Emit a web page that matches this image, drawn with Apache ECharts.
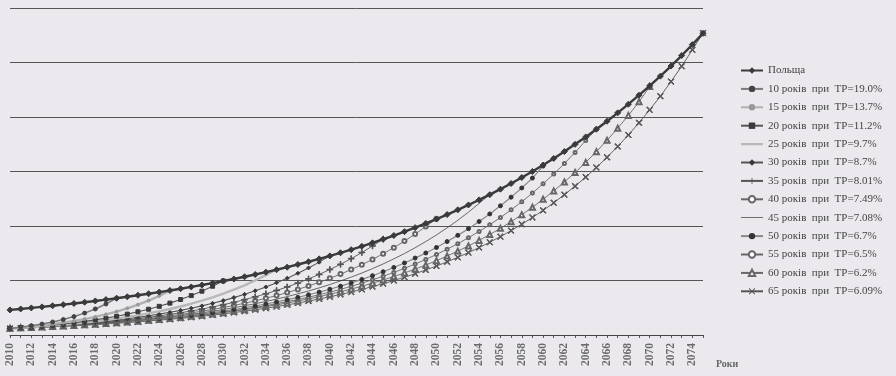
<!DOCTYPE html>
<html><head><meta charset="utf-8">
<script src="https://cdn.jsdelivr.net/npm/echarts@6/dist/echarts.min.js"></script>
<style>html,body{margin:0;padding:0;background:#ebe9ed}#c{width:896px;height:376px}</style>
</head><body><div id="c"></div>
<script>
const years = ['2010','2011','2012','2013','2014','2015','2016','2017','2018','2019','2020','2021','2022','2023','2024','2025','2026','2027','2028','2029','2030','2031','2032','2033','2034','2035','2036','2037','2038','2039','2040','2041','2042','2043','2044','2045','2046','2047','2048','2049','2050','2051','2052','2053','2054','2055','2056','2057','2058','2059','2060','2061','2062','2063','2064','2065','2066','2067','2068','2069','2070','2071','2072','2073','2074','2075'];

const seriesNames = ['Польща','10 років  при  ТР=19.0%','15 років  при  ТР=13.7%','20 років  при  ТР=11.2%','25 років  при  ТР=9.7%','30 років  при  ТР=8.7%','35 років  при  ТР=8.01%','40 років  при  ТР=7.49%','45 років  при  ТР=7.08%','50 років  при  ТР=6.7%','55 років  при  ТР=6.5%','60 років  при  ТР=6.2%','65 років  при  ТР=6.09%'];

const poland = [4.60,4.78,4.97,5.16,5.36,5.57,5.79,6.02,6.25,6.50,6.75,7.01,7.29,7.57,7.87,8.17,8.49,8.82,9.17,9.52,9.90,10.28,10.68,11.10,11.53,11.98,12.45,12.94,13.44,13.97,14.51,15.08,15.66,16.27,16.91,17.57,18.25,18.96,19.70,20.47,21.27,22.10,22.96,23.86,24.79,25.75,26.76,27.80,28.89,30.01,31.18,32.40,33.66,34.98,36.34,37.76,39.23,40.76,42.35,44.00,45.72,47.50,49.35,51.28,53.28,55.35];
const y10 = [1.19,1.42,1.69,2.00,2.39,2.84,3.38,4.02,4.78,5.69,6.77];
const y15 = [1.19,1.35,1.54,1.75,1.99,2.26,2.57,2.92,3.32,3.78,4.30,4.89,5.56,6.32,7.18,8.17];
const y20 = [1.19,1.32,1.47,1.64,1.82,2.02,2.25,2.50,2.78,3.09,3.44,3.83,4.26,4.73,5.26,5.85,6.51,7.23,8.04,8.95,9.92];
const y25 = [1.19,1.31,1.43,1.57,1.72,1.89,2.07,2.28,2.50,2.74,3.00,3.30,3.61,3.97,4.35,4.77,5.23,5.74,6.30,6.91,7.58,8.32,9.12,10.01,10.98,12.02];
const y30 = [1.19,1.29,1.41,1.53,1.66,1.81,1.96,2.13,2.32,2.52,2.74,2.98,3.24,3.52,3.83,4.16,4.52,4.91,5.34,5.81,6.31,6.86,7.46,8.11,8.81,9.58,10.41,11.32,12.30,13.37,14.52];
const y35 = [1.19,1.29,1.39,1.50,1.62,1.75,1.89,2.04,2.20,2.38,2.57,2.78,3.00,3.24,3.50,3.78,4.08,4.41,4.76,5.14,5.56,6.00,6.48,7.00,7.56,8.17,8.82,9.53,10.29,11.12,12.01,12.97,14.01,15.13,16.34,17.60];
const y40 = [1.19,1.28,1.37,1.48,1.59,1.71,1.84,1.97,2.12,2.28,2.45,2.63,2.83,3.04,3.27,3.52,3.78,4.06,4.37,4.69,5.05,5.42,5.83,6.27,6.74,7.24,7.78,8.37,8.99,9.67,10.39,11.17,12.00,12.90,13.87,14.91,16.03,17.23,18.52,19.90,21.33];
const y45 = [1.19,1.27,1.36,1.46,1.56,1.68,1.79,1.92,2.06,2.20,2.36,2.53,2.70,2.90,3.10,3.32,3.56,3.81,4.08,4.37,4.67,5.01,5.36,5.74,6.15,6.58,7.05,7.55,8.08,8.65,9.26,9.92,10.62,11.37,12.18,13.04,13.97,14.95,16.01,17.15,18.36,19.66,21.05,22.54,24.14,25.80];
const y50 = [1.20,1.28,1.37,1.46,1.56,1.66,1.77,1.89,2.02,2.15,2.30,2.45,2.61,2.79,2.98,3.17,3.39,3.61,3.86,4.11,4.39,4.68,5.00,5.33,5.69,6.07,6.48,6.91,7.38,7.87,8.40,8.96,9.56,10.20,10.88,11.61,12.39,13.22,14.11,15.05,16.06,17.14,18.28,19.51,20.82,22.21,23.70,25.29,26.98,28.79,31.00];
const y55 = [1.19,1.27,1.35,1.44,1.53,1.63,1.74,1.85,1.97,2.10,2.23,2.38,2.53,2.70,2.87,3.06,3.26,3.47,3.70,3.94,4.19,4.47,4.76,5.07,5.39,5.75,6.12,6.52,6.94,7.39,7.87,8.38,8.93,9.51,10.13,10.78,11.49,12.23,13.03,13.87,14.78,15.74,16.76,17.85,19.01,20.24,21.56,22.96,24.45,26.04,27.74,29.54,31.46,33.50,35.68,37.80];
const y60 = [1.23,1.31,1.39,1.47,1.56,1.66,1.76,1.87,1.99,2.11,2.24,2.38,2.53,2.69,2.86,3.03,3.22,3.42,3.63,3.86,4.10,4.35,4.62,4.91,5.21,5.53,5.88,6.24,6.63,7.04,7.48,7.94,8.43,8.95,9.51,10.10,10.73,11.39,12.10,12.85,13.64,14.49,15.39,16.34,17.36,18.43,19.57,20.79,22.08,23.44,24.90,26.44,28.08,29.82,31.67,33.64,35.72,37.94,40.29,42.79,45.60];
const y65 = [1.19,1.26,1.34,1.42,1.51,1.60,1.70,1.80,1.91,2.03,2.15,2.28,2.42,2.57,2.72,2.89,3.06,3.25,3.45,3.66,3.88,4.12,4.37,4.63,4.92,5.22,5.53,5.87,6.23,6.61,7.01,7.44,7.89,8.37,8.88,9.42,10.00,10.60,11.25,11.94,12.66,13.43,14.25,15.12,16.04,17.02,18.05,19.15,20.32,21.56,22.87,24.26,25.74,27.31,28.97,30.73,32.61,34.59,36.70,38.93,41.31,43.82,46.49,49.32,52.32,55.40];

const xCross = 'path://M-5,-4L-4,-5L0,-1L4,-5L5,-4L1,0L5,4L4,5L0,1L-4,5L-5,4L-1,0Z';
const plus = 'path://M-0.6,-5L0.6,-5L0.6,-0.6L5,-0.6L5,0.6L0.6,0.6L0.6,5L-0.6,5L-0.6,0.6L-5,0.6L-5,-0.6L-0.6,-0.6Z';
const thinLine = 'path://M0,0L0.01,0L0.01,0.01ZM0,3.6L22,3.6L22,4.4L0,4.4ZM0,8L0.01,8L0.01,7.99Z';
const thickLine = 'path://M0,0L0.01,0L0.01,0.01ZM0,2.8L22,2.8L22,5.2L0,5.2ZM0,8L0.01,8L0.01,7.99Z';

const dataList = [poland,y10,y15,y20,y25,y30,y35,y40,y45,y50,y55,y60,y65];
const styles = [
  {c:'#3a3a3a', w:2.4, s:'diamond', ss:6},
  {c:'#7a7a7a', w:1.5, s:'circle', ss:4, mc:'#444'},
  {c:'#b0b0b0', w:2.4, s:'circle', ss:3, mc:'#999'},
  {c:'#555', w:1.1, s:'rect', ss:4, mc:'#3a3a3a'},
  {c:'#b8b8b8', w:2.4, s:'none', ss:0, icon:thickLine},
  {c:'#555', w:1.1, s:'diamond', ss:4, mc:'#3a3a3a'},
  {c:'#555', w:0.9, s:plus, ss:6},
  {c:'#666', w:0.9, s:'emptyCircle', ss:4},
  {c:'#444', w:0.8, s:'none', ss:0, icon:thinLine},
  {c:'#888', w:1.2, s:'circle', ss:4, mc:'#333'},
  {c:'#666', w:0.9, s:'emptyCircle', ss:3},
  {c:'#666', w:0.9, s:'emptyTriangle', ss:5},
  {c:'#555', w:0.9, s:xCross, ss:6}
];

const chart = echarts.init(document.getElementById('c'), null, {renderer:'canvas'});
chart.setOption({
  animation:false,
  backgroundColor:'#ebe9ed',
  grid:{left:10, right:193, top:8, bottom:41, containLabel:false},
  legend:{
    orient:'vertical', left:735, top:60,
    itemWidth:22, itemHeight:8, itemGap:7.4,
    textStyle:{fontFamily:'Liberation Serif', fontSize:11, color:'#444', lineHeight:11},
    data:seriesNames.map((n,i)=> styles[i].icon ? {name:n, icon:styles[i].icon, itemStyle:{color:styles[i].c}} : n)
  },
  xAxis:{
    type:'category', data:years, boundaryGap:false,
    axisLine:{lineStyle:{color:'#444', width:1}},
    axisTick:{show:true, interval:0, length:3, lineStyle:{color:'#555'}},
    axisLabel:{interval:1, rotate:90, fontFamily:'Liberation Serif', fontSize:11.5, fontWeight:'bold', color:'#6a6a6a', margin:8},
    splitLine:{show:false}
  },
  yAxis:{
    type:'value', min:0, max:60, interval:10,
    axisLine:{show:false}, axisTick:{show:false}, axisLabel:{show:false},
    splitLine:{lineStyle:{color:'#555', width:1}}
  },
  graphic:[{type:'text', left:716, top:359, style:{text:'Роки', fontFamily:'Liberation Serif', fontSize:10, fontWeight:'bold', fill:'#666'}}],
  series: seriesNames.map((n,i)=>({
    name:n, type:'line', data:dataList[i],
    symbol:styles[i].s, symbolSize:styles[i].ss, showSymbol: styles[i].s!=='none',
    lineStyle:{color:styles[i].c, width:styles[i].w},
    itemStyle:{color:styles[i].mc||styles[i].c, borderColor:styles[i].mc||styles[i].c},
    z: 13-i
  }))
});
</script></body></html>
